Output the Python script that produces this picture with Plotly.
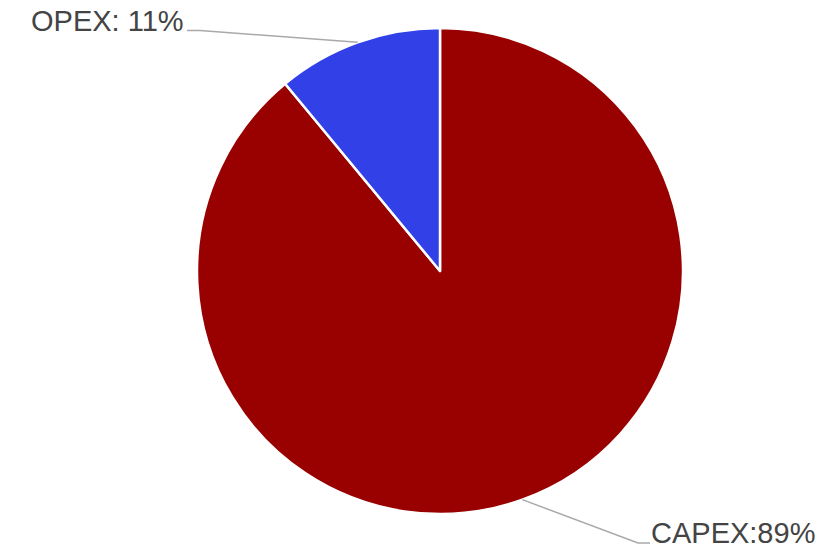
import math
import plotly.graph_objects as go

# Cost split, listed in clockwise drawing order from 12 o'clock
categories = ["CAPEX", "OPEX"]
values = [89, 11]
label_texts = ["CAPEX:89%", "OPEX: 11%"]
colors = ["#990000", "#3240E8"]

W, H = 836, 547
CX, CY, R = 440, 271, 243  # pie centre and radius in pixels

# label anchors: elbow point and line end (pixels), text side
label_layout = [
    {"elbow": (638, 543), "end": (650, 543), "side": "right"},
    {"elbow": (200, 30.5), "end": (187, 30.5), "side": "left"},
]


def px_to_paper(x, y):
    return x / W, 1 - y / H


fig = go.Figure(
    go.Pie(
        labels=categories,
        values=values,
        marker=dict(colors=colors, line=dict(color="white", width=2.5)),
        sort=False,
        direction="clockwise",
        rotation=0,
        textinfo="none",
        hoverinfo="label+percent",
        showlegend=False,
        domain=dict(
            x=[(CX - R) / W, (CX + R) / W],
            y=[1 - (CY + R) / H, 1 - (CY - R) / H],
        ),
    )
)

# leader lines from each slice's mid-angle (clockwise from top) to its label
total = sum(values)
start = 0.0
shapes, annotations = [], []
for val, text, lay in zip(values, label_texts, label_layout):
    mid = math.radians((start + val / 2) / total * 360)
    start += val
    ex = CX + R * math.sin(mid)
    ey = CY - R * math.cos(mid)
    pts = [(ex, ey), lay["elbow"], lay["end"]]
    path = "M " + " L ".join(
        "{:.5f},{:.5f}".format(*px_to_paper(x, y)) for x, y in pts
    )
    shapes.append(
        dict(type="path", path=path, xref="paper", yref="paper",
             line=dict(color="#a9a9a9", width=1.5))
    )
    tx, ty = lay["end"]
    if lay["side"] == "left":
        ax, anchor = tx - 1, "right"
    else:
        ax, anchor = tx - 1, "left"
    px, py = px_to_paper(ax, ty - 10)
    annotations.append(
        dict(x=px, y=py, xref="paper", yref="paper", text=text,
             showarrow=False, xanchor=anchor, yanchor="middle",
             font=dict(family="Liberation Sans, Arial, sans-serif",
                       size=29, color="#444444"))
    )

fig.update_layout(
    width=W,
    height=H,
    margin=dict(l=0, r=0, t=0, b=0),
    paper_bgcolor="white",
    plot_bgcolor="white",
    shapes=shapes,
    annotations=annotations,
)

fig.write_html("out.html")
